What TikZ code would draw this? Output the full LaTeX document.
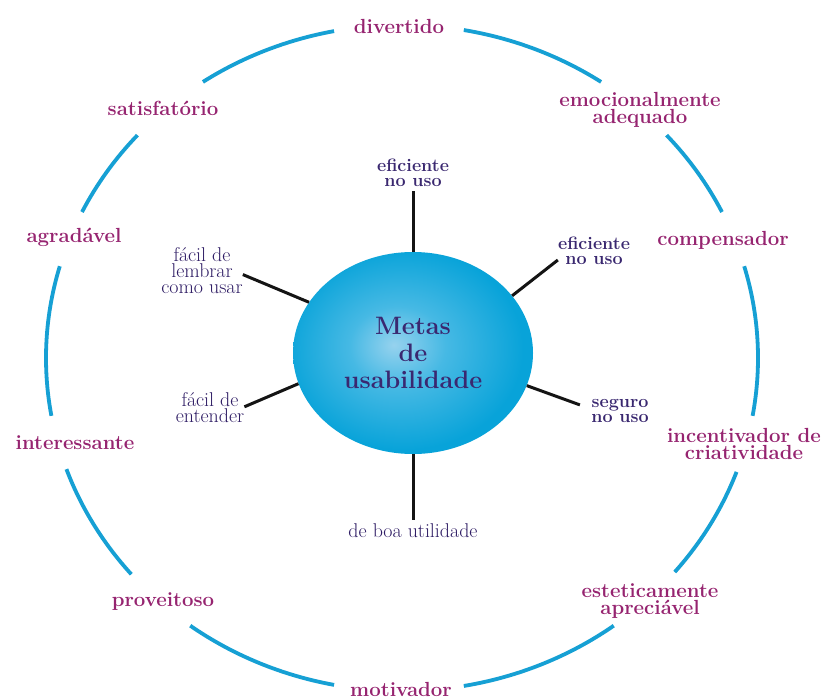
\documentclass[tikz,border=0pt]{standalone}
\usepackage{xcolor}
\usepackage{tikz}
\usetikzlibrary{shapes.geometric,positioning}
\definecolor{ringblue}{RGB}{22,160,212}
\definecolor{qualpink}{RGB}{150,36,112}
\definecolor{goalink}{RGB}{58,40,112}
\definecolor{goalinkrm}{RGB}{46,28,100}
\definecolor{balllight}{RGB}{150,210,238}
\definecolor{ballmid}{RGB}{70,185,228}
\definecolor{balldark}{RGB}{8,163,217}
\pgfdeclareradialshading{ballshade}{\pgfpoint{-4bp}{2bp}}{%
  color(0bp)=(balllight); color(10bp)=(ballmid);
  color(25bp)=(balldark); color(50bp)=(balldark)}
\tikzset{
  ring/.style={draw=ringblue,line width=3.8bp},
  quality/.style={align=center,inner sep=0pt,text=qualpink,
    font=\fontsize{20.5}{17}\selectfont\bfseries},
  goal/.style={align=center,inner sep=0pt,text=goalink,
    font=\fontsize{18}{15}\selectfont\bfseries},
  goalrm/.style={align=center,inner sep=0pt,text=goalinkrm,
    font=\fontsize{20}{16}\selectfont},
  ball/.style={ellipse,shading=ballshade,minimum width=240bp,minimum height=202bp,
    inner sep=0pt,align=center,text=goalink,
    font=\fontsize{25.3}{27.5}\selectfont\bfseries},
  spoke/.style={draw=black!92,line width=3bp},
}
\begin{document}
\begin{tikzpicture}[x=1bp,y=-1bp]
\path[fill=white,use as bounding box] (0,0) rectangle (824,697);
\coordinate (ringc) at (402,358);
% outer ring, broken at every label
\foreach \sa/\ea in {236/259,206/222,170/196,139.5/160.5,101/126.5,
                     280/304,318/334,344/370,20/40,53.5/80}
  \draw[ring] (ringc) ++(\sa:356 and 333)
    arc[start angle=\sa,end angle=\ea,x radius=356,y radius=333];

% usability goals
\node[ball] (metas) at (413,353) {Metas\\de\\usabilidade};
\node[goal] (eftop) at (413,173) {eficiente\\no uso};
\node[goal] (efright) at (594,251) {eficiente\\no uso};
\node[goal] (seguro) at (620,411) {seguro\\no uso};
\node[goalrm] (utilidade) at (413,531) {de boa utilidade};
\node[goalrm] (entender) at (210,408) {fácil de\\entender};
\node[goalrm] (lembrar) at (202,271) {fácil de\\lembrar\\como usar};

\draw[spoke,shorten >=4bp] (metas.north) -- (eftop.south);
\draw[spoke] (metas.30) -- (efright.194);
\draw[spoke,shorten >=12bp] (metas.344) -- (seguro.176);
\draw[spoke,shorten >=4bp] (metas.south) -- (utilidade.north);
\draw[spoke] (metas.195) -- (entender.2);
\draw[spoke] (metas.154) -- (lembrar.355);

% user experience goals on the ring
\node[quality] (divertido) at (399,26) {divertido};
\node[quality] (satisf) at (163,108) {satisfatório};
\node[quality] (agrad) at (74,237) {agradável};
\node[quality] (interes) at (75,443) {interessante};
\node[quality] (proveit) at (163,602) {proveitoso};
\node[quality] (motiv) at (401,689) {motivador};
\node[quality] (emocion) at (640,110) {emocionalmente\\adequado};
\node[quality] (compens) at (723,240) {compensador};
\node[quality] (criativ) at (744,444) {incentivador de\\criatividade};
\node[quality] (estetic) at (650,601) {esteticamente\\apreciável};
\end{tikzpicture}
\end{document}
